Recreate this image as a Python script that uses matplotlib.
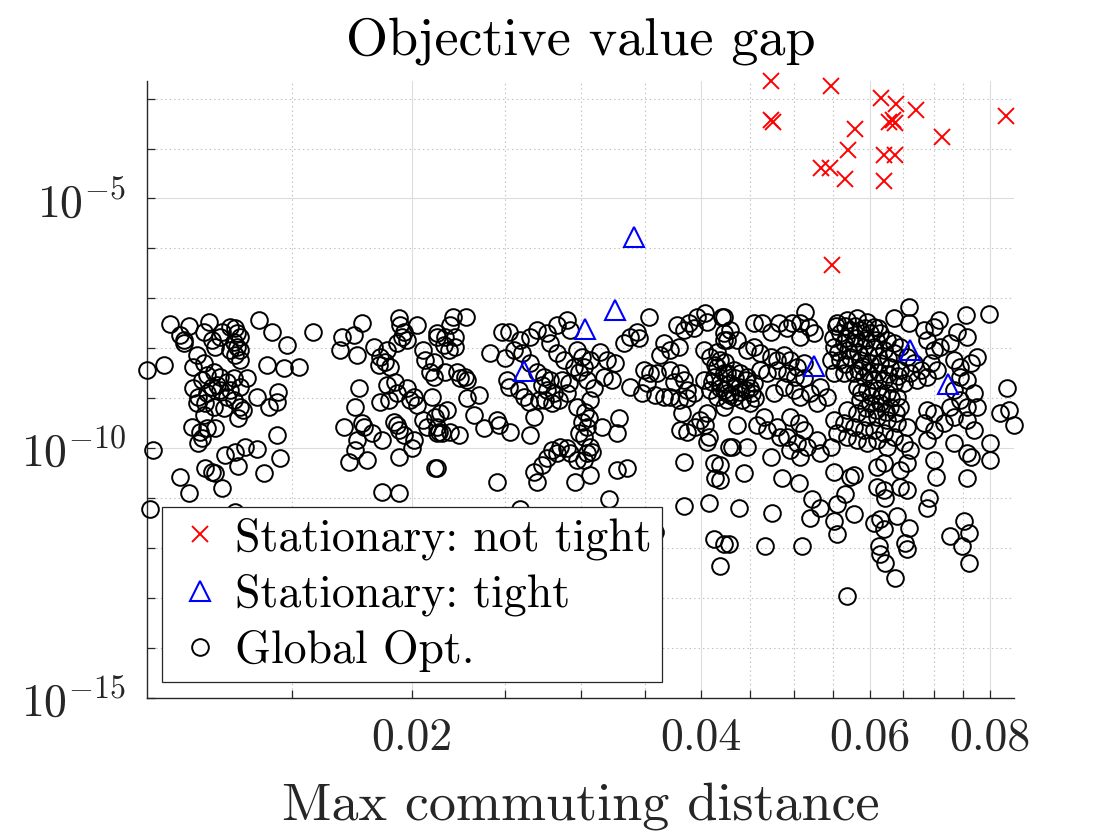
import numpy as np
import matplotlib
matplotlib.use("Agg")
import matplotlib.pyplot as plt
from matplotlib.ticker import FixedLocator, FixedFormatter, NullFormatter
from matplotlib.lines import Line2D

plt.rcParams["font.family"] = "serif"
plt.rcParams["font.serif"] = ["cmr10"]
plt.rcParams["mathtext.fontset"] = "cm"
plt.rcParams["axes.unicode_minus"] = False
plt.rcParams["axes.formatter.use_mathtext"] = True

# (max commuting distance, log10 of objective value gap)
not_tight = [
    (0.04740, -2.648), (0.05461, -2.74), (0.04740, -3.434), (0.04763, -3.468),
    (0.06171, -2.98), (0.06397, -3.10), (0.06711, -3.234), (0.08327, -3.354),
    (0.05797, -3.60), (0.06290, -3.468), (0.06351, -3.434), (0.06381, -3.48),
    (0.07143, -3.768), (0.05700, -4.034), (0.05344, -4.40), (0.05448, -4.40),
    (0.06215, -4.134), (0.06381, -4.134), (0.05653, -4.62), (0.06215, -4.648),
    (0.05474, -6.34),
]

tight = [
    (0.03412, -5.764), (0.03259, -7.234), (0.03033, -7.614), (0.02620, -8.454),
    (0.05254, -8.364), (0.06614, -8.034), (0.07238, -8.714),
]

global_opt = [
    # left group
    (0.01121, -7.51), (0.01171, -7.55), (0.01229, -7.47), (0.01148, -7.73), (0.01157, -7.83),
    (0.01157, -7.90), (0.01214, -7.67), (0.01269, -7.67), (0.01264, -7.77), (0.01294, -7.57),
    (0.01310, -7.60), (0.01315, -7.70), (0.01326, -7.77), (0.01305, -7.87), (0.01315, -7.97),
    (0.01294, -8.03), (0.01310, -8.13), (0.01326, -8.03), (0.01326, -8.23), (0.01385, -7.43),
    (0.01431, -7.68), (0.01482, -7.93), (0.01579, -7.68), (0.01239, -7.83), (0.01249, -7.97),
    (0.01195, -8.13), (0.01185, -8.37), (0.01214, -8.30), (0.01060, -8.43), (0.01103, -8.33),
    (0.01414, -8.33), (0.01471, -8.40), (0.01528, -8.37), (0.01185, -8.80), (0.01209, -8.63),
    (0.01224, -8.53), (0.01244, -8.47), (0.01264, -8.57), (0.01285, -8.67), (0.01305, -8.60),
    (0.01326, -8.77), (0.01347, -8.60), (0.01199, -8.97), (0.01224, -8.90), (0.01239, -8.77),
    (0.01264, -8.83), (0.01285, -8.97), (0.01305, -9.03), (0.01195, -9.10), (0.01219, -9.10),
    (0.01244, -9.17), (0.01275, -9.20), (0.01326, -9.17), (0.01254, -8.73), (0.01294, -8.83),
    (0.01380, -8.97), (0.01453, -8.87), (0.01447, -9.07), (0.01419, -9.17), (0.01320, -9.40),
    (0.01336, -9.23), (0.01214, -9.33), (0.01181, -9.57), (0.01204, -9.67), (0.01224, -9.60),
    (0.01249, -9.60), (0.01209, -9.80), (0.01199, -9.90), (0.01447, -9.73), (0.01076, -10.03),
    (0.01279, -10.13), (0.01310, -10.07), (0.01342, -9.97), (0.01380, -10.02), (0.01459, -10.20),
    (0.01320, -10.35), (0.01148, -10.57), (0.01219, -10.40), (0.01239, -10.47), (0.01249, -10.50),
    (0.01402, -10.50), (0.01171, -10.90), (0.01269, -10.80), (0.01068, -11.23), (0.01310, -11.29),
    # group around 0.02
    (0.01692, -7.77), (0.01685, -8.03), (0.01740, -7.73), (0.01753, -8.13), (0.01775, -7.50),
    (0.01826, -7.97), (0.01855, -8.17), (0.01847, -8.33), (0.01885, -8.03), (0.01878, -8.27),
    (0.01939, -7.40), (0.01946, -7.53), (0.01962, -7.67), (0.01954, -7.77), (0.01931, -7.90),
    (0.01977, -7.83), (0.02025, -7.53), (0.02057, -8.03), (0.02066, -8.23), (0.02091, -8.47),
    (0.02108, -8.57), (0.02125, -7.77), (0.01900, -8.37), (0.01761, -8.80), (0.01885, -8.73),
    (0.01923, -8.67), (0.01931, -8.90), (0.01977, -8.80), (0.02009, -8.97), (0.01993, -9.03),
    (0.01855, -9.07), (0.01892, -9.03), (0.01747, -9.17), (0.01701, -9.57), (0.01775, -9.50),
    (0.01782, -9.57), (0.01818, -9.70), (0.01915, -9.47), (0.01931, -9.53), (0.01939, -9.63),
    (0.01962, -9.73), (0.02025, -9.13), (0.02057, -9.43), (0.02074, -9.57), (0.02125, -9.70),
    (0.02116, -9.37), (0.02009, -9.83), (0.02001, -10.00), (0.01863, -9.83), (0.01753, -9.83),
    (0.01747, -10.03), (0.01719, -10.27), (0.01797, -10.23), (0.01939, -10.17), (0.02116, -10.40),
    (0.01863, -10.87), (0.01939, -10.90),
    # middle group
    (0.02209, -7.37), (0.02276, -7.37), (0.02194, -7.53), (0.02125, -7.70), (0.02168, -7.77),
    (0.02220, -7.77), (0.02159, -7.93), (0.02185, -8.03), (0.02220, -7.97), (0.02108, -8.27),
    (0.02168, -8.47), (0.02247, -8.60), (0.02274, -8.57), (0.02284, -8.63), (0.02229, -8.47),
    (0.02284, -9.00), (0.02348, -8.93), (0.02099, -8.97), (0.02177, -9.23), (0.02142, -9.30),
    (0.02125, -9.57), (0.02150, -9.70), (0.02133, -9.67), (0.02238, -9.73), (0.02194, -9.67),
    (0.02320, -9.33), (0.02377, -9.60), (0.02454, -9.43), (0.02463, -9.53), (0.02533, -9.67),
    (0.02658, -9.73), (0.02483, -7.67), (0.02523, -7.67), (0.02415, -8.10), (0.02503, -8.20),
    (0.02513, -8.63), (0.02523, -8.77), (0.02585, -8.83), (0.02616, -8.97), (0.02647, -9.07),
    (0.02595, -7.83), (0.02658, -7.77), (0.02701, -7.63), (0.02767, -7.70), (0.02554, -8.03),
    (0.02606, -8.10), (0.02658, -8.30), (0.02701, -8.47), (0.02745, -8.57), (0.02789, -8.63),
    (0.02734, -8.73), (0.02767, -8.83), (0.02811, -8.90), (0.02756, -9.03), (0.02712, -9.03),
    (0.02800, -9.10), (0.02845, -9.03), (0.02679, -9.37), (0.02834, -7.53), (0.02903, -7.43),
    (0.02926, -7.63), (0.02789, -7.90), (0.02834, -8.10), (0.02879, -8.23), (0.02868, -8.63),
    (0.02914, -8.70), (0.02903, -8.90), (0.02973, -8.03), (0.03009, -8.17), (0.02949, -8.37),
    (0.02985, -8.47), (0.03021, -8.37), (0.03070, -8.23), (0.03046, -8.63), (0.03094, -8.80),
    (0.03070, -9.03), (0.02973, -9.17), (0.03033, -9.27), (0.03058, -9.40), (0.03009, -9.47),
    (0.03046, -9.57), (0.02985, -9.70), (0.03021, -9.77), (0.03157, -9.57), (0.03272, -9.70),
    (0.03285, -9.40), (0.03144, -8.07), (0.03195, -8.23), (0.03259, -8.30), (0.03233, -8.63),
    (0.03169, -8.57), (0.03325, -7.90), (0.03379, -7.77), (0.03434, -7.67), (0.03447, -7.80),
    (0.03531, -7.37), (0.03379, -8.77), (0.03489, -8.43), (0.03517, -8.70), (0.03475, -8.90),
    (0.03545, -8.50), (0.03602, -8.50), (0.03588, -8.93), (0.03660, -8.97), (0.03719, -8.97),
    (0.03660, -7.90), (0.03631, -8.13), (0.03719, -8.03), (0.03794, -7.97), (0.03719, -8.43),
    (0.03810, -8.50), (0.03840, -8.63), (0.03749, -8.67), (0.03871, -8.83), (0.03933, -8.90),
    (0.03871, -9.00), (0.03794, -9.03), (0.03779, -7.53), (0.03840, -7.63), (0.03886, -7.50),
    (0.03933, -7.60), (0.03965, -7.37), (0.04044, -7.30), (0.04060, -7.47), (0.04210, -7.37),
    (0.04028, -8.03), (0.04093, -8.17), (0.04160, -8.07), (0.04193, -8.23), (0.04160, -8.37),
    (0.04227, -8.50), (0.04126, -8.57), (0.04193, -8.70), (0.04227, -8.83), (0.04262, -9.03),
    (0.04160, -8.97), (0.04093, -8.83), (0.04028, -8.63), (0.03825, -9.30), (0.03810, -9.63),
    (0.03871, -9.67), (0.03949, -9.57), (0.03996, -9.43), (0.04060, -9.30), (0.04044, -9.53),
    (0.04077, -9.77), (0.04060, -9.87), (0.04227, -7.70), (0.04262, -7.83), (0.04279, -9.97),
    (0.02454, -10.67), (0.02701, -10.67), (0.02679, -10.47), (0.02734, -10.33), (0.02767, -10.20),
    (0.02800, -10.03), (0.02834, -10.10), (0.02856, -9.97), (0.02903, -10.00), (0.02926, -10.10),
    (0.02973, -10.23), (0.03021, -10.23), (0.03046, -10.10), (0.03070, -9.97), (0.03082, -10.07),
    (0.02961, -10.67), (0.03070, -10.53), (0.03207, -11.03), (0.03272, -10.43), (0.03352, -10.40),
    (0.02125, -10.40), (0.02595, -11.23), (0.03840, -10.27), (0.03840, -11.17), (0.04077, -11.10),
    (0.04126, -10.30), (0.04143, -10.60), (0.03585, -11.69), (0.04126, -11.83), (0.04227, -11.93),
    (0.04143, -8.33), (0.04244, -8.27), (0.04348, -8.59), (0.04454, -8.63), (0.04400, -8.87),
    (0.04507, -8.79), (0.04296, -8.93), (0.04193, -8.79), (0.04561, -8.99), (0.04113, -8.67),
    # right group
    (0.05142, -7.27), (0.06588, -7.17), (0.07549, -7.33), (0.07982, -7.31), (0.06355, -7.40),
    (0.06588, -7.50), (0.07080, -7.43), (0.06997, -7.57), (0.06831, -7.63), (0.07399, -7.67),
    (0.07579, -7.77), (0.04227, -7.37), (0.04296, -7.63), (0.04365, -7.83), (0.04227, -7.83),
    (0.04543, -7.50), (0.04635, -7.50), (0.04729, -7.67), (0.04824, -7.50), (0.04922, -7.60),
    (0.04981, -7.50), (0.05081, -7.50), (0.05183, -7.57), (0.05246, -7.70), (0.05081, -7.77),
    (0.04471, -8.03), (0.04543, -7.97), (0.04616, -8.10), (0.04729, -8.17), (0.04805, -8.23),
    (0.04882, -8.13), (0.04961, -8.23), (0.05041, -8.37), (0.05122, -8.30), (0.04616, -8.43),
    (0.04691, -8.50), (0.04805, -8.43), (0.04922, -8.50), (0.05021, -8.57), (0.05122, -8.60),
    (0.04262, -8.50), (0.04330, -8.43), (0.04400, -8.50), (0.04471, -8.57), (0.04543, -8.70),
    (0.04296, -8.70), (0.04382, -8.77), (0.04454, -8.83), (0.04525, -8.90), (0.04262, -8.90),
    (0.04330, -8.97), (0.04418, -9.03), (0.04227, -9.17), (0.04507, -9.10), (0.04767, -8.90),
    (0.04882, -8.77), (0.05001, -8.83), (0.05081, -8.97), (0.05204, -8.90), (0.05331, -8.77),
    (0.05288, -9.10), (0.05418, -8.97), (0.04653, -9.37), (0.04578, -9.53), (0.04691, -9.63),
    (0.04805, -9.57), (0.04843, -9.77), (0.04922, -9.77), (0.04961, -9.37), (0.05061, -9.50),
    (0.05122, -9.63), (0.05041, -9.90), (0.04961, -10.03), (0.05081, -10.17), (0.05163, -9.97),
    (0.05288, -9.83), (0.05331, -10.10), (0.05461, -9.97), (0.05549, -9.70), (0.05505, -9.43),
    (0.04365, -9.53), (0.04313, -9.97), (0.04471, -9.97), (0.04729, -10.17), (0.04435, -10.50),
    (0.04862, -10.60), (0.05061, -10.70), (0.04193, -10.33), (0.04193, -10.63), (0.05505, -10.47),
    (0.05728, -10.57), (0.05774, -10.53), (0.04382, -11.20), (0.04748, -11.30), (0.04279, -11.93),
    (0.04672, -11.97), (0.05101, -11.97), (0.04193, -12.37), (0.05230, -11.03), (0.05331, -11.20),
    (0.05204, -11.40), (0.05549, -11.13), (0.05660, -10.93), (0.05505, -11.47), (0.05549, -11.73),
    (0.05774, -11.33), (0.05683, -12.97),
    (0.05549, -7.50), (0.05683, -7.43), (0.05821, -7.40), (0.05962, -7.47), (0.06058, -7.57),
    (0.05593, -7.70), (0.05728, -7.63), (0.05867, -7.63), (0.06010, -7.70), (0.06156, -7.70),
    (0.06255, -7.83), (0.06355, -7.90), (0.05505, -7.97), (0.05638, -7.90), (0.05774, -7.90),
    (0.05914, -7.97), (0.06058, -7.97), (0.06205, -8.03), (0.06355, -8.10), (0.06458, -7.97),
    (0.06562, -8.17), (0.06668, -8.30), (0.06777, -8.43), (0.05461, -8.23), (0.05593, -8.23),
    (0.05728, -8.17), (0.05867, -8.23), (0.06010, -8.30), (0.06156, -8.30), (0.06305, -8.37),
    (0.06458, -8.43), (0.06614, -8.50), (0.06723, -8.63), (0.05505, -8.50), (0.05638, -8.50),
    (0.05774, -8.50), (0.05914, -8.57), (0.06058, -8.63), (0.06205, -8.63), (0.06355, -8.70),
    (0.06510, -8.70), (0.05821, -8.77), (0.05962, -8.83), (0.06107, -8.83), (0.06255, -8.90),
    (0.06407, -8.97), (0.05867, -9.03), (0.06010, -9.10), (0.06156, -9.10), (0.06305, -9.17),
    (0.06458, -9.17), (0.05683, -9.23), (0.05821, -9.30), (0.05962, -9.37), (0.06107, -9.37),
    (0.06255, -9.43), (0.06407, -9.50), (0.06562, -9.57), (0.05638, -9.50), (0.05774, -9.57),
    (0.05914, -9.63), (0.06058, -9.63), (0.06205, -9.70), (0.06355, -9.77), (0.05683, -9.77),
    (0.05821, -9.83), (0.05962, -9.90), (0.06107, -9.83), (0.06255, -9.97), (0.06510, -9.90),
    (0.06614, -10.03), (0.06562, -10.30), (0.06458, -10.43),
    (0.05527, -7.55), (0.05660, -7.55), (0.05797, -7.55), (0.05938, -7.59), (0.06127, -7.59),
    (0.05500, -7.79), (0.05673, -7.79), (0.05811, -7.79), (0.05953, -7.83), (0.06097, -7.83),
    (0.05566, -8.07), (0.05700, -8.03), (0.05839, -8.07), (0.05981, -8.11), (0.06127, -8.15),
    (0.06275, -8.19), (0.05660, -8.31), (0.05895, -8.35), (0.05839, -8.43), (0.05981, -8.47),
    (0.06127, -8.47), (0.06275, -8.51), (0.06427, -8.55), (0.05881, -8.87), (0.06024, -8.95),
    (0.06171, -8.95), (0.06320, -8.99), (0.05953, -9.19), (0.06097, -9.23), (0.06245, -9.27),
    (0.06397, -9.29),
    (0.06886, -7.83), (0.06997, -8.03), (0.07109, -7.97), (0.07281, -7.90), (0.06941, -8.30),
    (0.06886, -8.57), (0.07053, -8.43), (0.07340, -8.23), (0.07458, -8.37), (0.07640, -8.30),
    (0.07764, -8.17), (0.07579, -8.63), (0.07458, -8.57), (0.07701, -8.90), (0.07340, -8.83),
    (0.07458, -9.03), (0.07281, -9.17), (0.07579, -9.17), (0.07764, -9.17), (0.07579, -9.43),
    (0.07701, -9.63), (0.07340, -9.37), (0.07166, -9.50), (0.06997, -9.30), (0.06886, -9.23),
    (0.06831, -9.50), (0.06997, -9.63), (0.06886, -9.83), (0.07340, -9.90), (0.07579, -10.10),
    (0.07640, -10.17), (0.08014, -9.90), (0.08014, -10.23), (0.06997, -10.23), (0.07025, -10.57),
    (0.07579, -10.60), (0.06913, -11.00), (0.06886, -11.20), (0.08342, -8.80), (0.08208, -9.30),
    (0.08374, -9.23), (0.08479, -9.53),
    (0.06107, -10.77), (0.06205, -10.83), (0.06458, -10.77), (0.06562, -10.83), (0.06230, -11.00),
    (0.06058, -11.50), (0.06156, -11.43), (0.06205, -11.63), (0.06407, -11.37), (0.06588, -11.60),
    (0.06131, -11.97), (0.06156, -12.13), (0.06230, -12.30), (0.06536, -11.90), (0.06562, -12.03),
    (0.06381, -12.60), (0.07281, -11.77), (0.07517, -11.47), (0.07609, -11.70), (0.07488, -11.97),
    (0.07609, -12.30), (0.06107, -10.37), (0.06205, -10.30),
]

xticks = [0.02, 0.04, 0.06, 0.08]
xtick_labels = ["0.02", "0.04", "0.06", "0.08"]
xminor = [0.015, 0.025, 0.03, 0.035, 0.045, 0.05, 0.055, 0.065, 0.07, 0.075]
yticks = [1e-15, 1e-10, 1e-5]
ytick_labels = [r"$10^{-15}$", r"$10^{-10}$", r"$10^{-5}$"]
yminor = [10.0 ** k for k in range(-14, -2) if k % 5]

labels = ["Stationary: not tight", "Stationary: tight", "Global Opt."]

ink = "#262626"

fig = plt.figure(figsize=(11.2, 8.4), dpi=100)
ax = fig.add_axes([147 / 1120, 1 - 697.7 / 840, 867 / 1120, 616.7 / 840])
ax.set_xscale("log")
ax.set_yscale("log")

g = np.array(global_opt)
t = np.array(tight)
n = np.array(not_tight)
ax.plot(g[:, 0], 10.0 ** g[:, 1], ls="none", marker="o", ms=12, mfc="none",
        mec="k", mew=1.4, clip_on=False, zorder=3)
ax.plot(t[:, 0], 10.0 ** t[:, 1], ls="none", marker="^", ms=14, mfc="none",
        mec="b", mew=1.5, clip_on=False, zorder=4)
ax.plot(n[:, 0], 10.0 ** n[:, 1], ls="none", marker="x", ms=11.5, mec="r",
        mew=1.4, clip_on=False, zorder=5)

ax.set_xlim(0.0106, 0.0848)
ax.set_ylim(1e-15, 10.0 ** -2.648)

ax.xaxis.set_major_locator(FixedLocator(xticks))
ax.xaxis.set_major_formatter(FixedFormatter(xtick_labels))
ax.xaxis.set_minor_locator(FixedLocator(xminor))
ax.xaxis.set_minor_formatter(NullFormatter())
ax.yaxis.set_major_locator(FixedLocator(yticks))
ax.yaxis.set_major_formatter(FixedFormatter(ytick_labels))
ax.yaxis.set_minor_locator(FixedLocator(yminor))
ax.yaxis.set_minor_formatter(NullFormatter())

ax.tick_params(which="both", direction="in", length=6, width=0.9, color=ink,
               top=False, right=False)
ax.tick_params(axis="x", which="major", labelsize=33, labelcolor=ink, pad=14)
ax.tick_params(axis="y", which="major", labelsize=33, labelcolor=ink, pad=15)

ax.set_axisbelow(True)
ax.grid(which="major", color="#dcdcdc", lw=0.8, ls="-")
ax.grid(which="minor", color="#bdbdbd", lw=0.8, ls=(0, (1.2, 2.8)))

for side in ("top", "right"):
    ax.spines[side].set_visible(False)
for side in ("left", "bottom"):
    ax.spines[side].set_color(ink)
    ax.spines[side].set_linewidth(1.0)

ax.set_title("Objective value gap", fontsize=39, pad=19)
ax.set_xlabel("Max commuting distance", fontsize=39, color=ink, labelpad=17)

handles = [
    Line2D([], [], ls="none", marker="x", ms=11.5, mec="r", mew=1.4),
    Line2D([], [], ls="none", marker="^", ms=14, mfc="none", mec="b", mew=1.5),
    Line2D([], [], ls="none", marker="o", ms=12, mfc="none", mec="k", mew=1.4),
]
leg = ax.legend(handles, labels, loc="lower left", bbox_to_anchor=(0.0173, 0.0255),
                fontsize=33, frameon=True, fancybox=False, edgecolor=ink,
                framealpha=1, borderpad=0.22, labelspacing=0.3, handlelength=1.2,
                handletextpad=0.17, borderaxespad=0)
leg.get_frame().set_linewidth(0.9)
leg.set_zorder(10)

fig.savefig("out.png", dpi=100)
